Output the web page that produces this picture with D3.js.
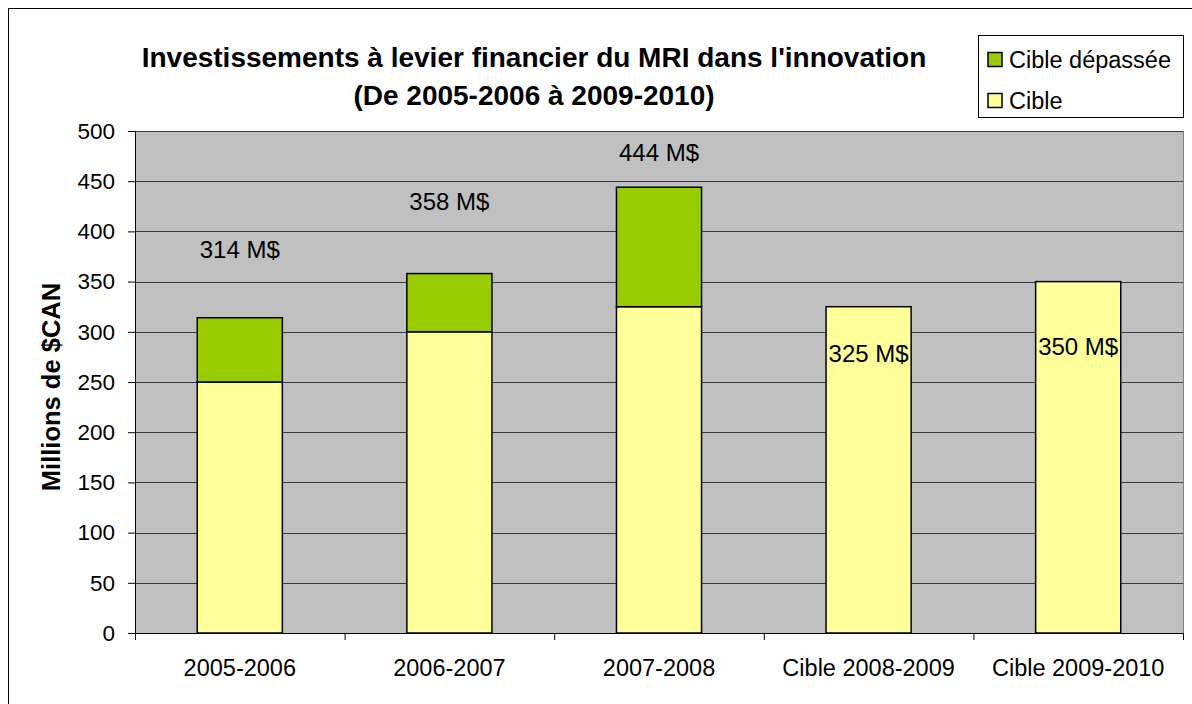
<!DOCTYPE html>
<html>
<head>
<meta charset="utf-8">
<script src="https://cdn.jsdelivr.net/npm/d3@7"></script>
<style>
  body { margin: 0; background: #fff; }
  text { font-family: "Liberation Sans", Arial, sans-serif; }
</style>
</head>
<body>
<div id="chart"></div>
<script>
// Chart data
const categories = ["2005-2006", "2006-2007", "2007-2008", "Cible 2008-2009", "Cible 2009-2010"];
const cibleValues = [250, 300, 325, 325, 350];
const depasseeValues = [64, 58, 119, 0, 0];
const labelTexts = ["314 M$", "358 M$", "444 M$", "325 M$", "350 M$"];
const labelLevels = [382, 430, 478, 278, 285];
const yTicks = [0, 50, 100, 150, 200, 250, 300, 350, 400, 450, 500];

const W = 1192, H = 704;
const margin = {top: 131, right: 9, bottom: 71, left: 135};
const width = W - margin.left - margin.right,
      height = H - margin.top - margin.bottom;

const svg = d3.select("#chart").append("svg")
    .attr("width", W)
    .attr("height", H);

// outer frame
svg.append("rect")
    .attr("x", 8.5).attr("y", 8.5)
    .attr("width", W + 20).attr("height", H + 20)
    .attr("fill", "#fff").attr("stroke", "#000");

const g = svg.append("g")
    .attr("transform", `translate(${margin.left},${margin.top})`);

const x = d3.scaleBand().domain(categories).range([0, width]).paddingInner(0).paddingOuter(0);
const y = d3.scaleLinear().domain([0, 500]).range([height, 0]);
const barW = x.bandwidth() * 0.406;

// plot background
g.append("rect")
    .attr("width", width).attr("height", height)
    .attr("fill", "#c0c0c0");

// gridlines
g.selectAll(".grid")
    .data(yTicks.filter(d => d > 0))
  .enter().append("line")
    .attr("x1", 0).attr("x2", width)
    .attr("y1", d => Math.round(y(d)) + 0.5).attr("y2", d => Math.round(y(d)) + 0.5)
    .attr("stroke", "#3a3a3a").attr("stroke-width", 1);

// right border of plot area
g.append("line")
    .attr("x1", width + 0.5).attr("x2", width + 0.5)
    .attr("y1", 0).attr("y2", height)
    .attr("stroke", "#808080");

// stacked bars
const data = categories.map((c, i) => ({cat: c, cible: cibleValues[i], dep: depasseeValues[i]}));

g.selectAll(".cible")
    .data(data)
  .enter().append("rect")
    .attr("x", d => x(d.cat) + (x.bandwidth() - barW) / 2)
    .attr("y", d => y(d.cible))
    .attr("width", barW)
    .attr("height", d => height - y(d.cible))
    .attr("fill", "#ffff99").attr("stroke", "#000").attr("stroke-width", 1.5);

g.selectAll(".dep")
    .data(data.filter(d => d.dep > 0))
  .enter().append("rect")
    .attr("x", d => x(d.cat) + (x.bandwidth() - barW) / 2)
    .attr("y", d => y(d.cible + d.dep))
    .attr("width", barW)
    .attr("height", d => y(d.cible) - y(d.cible + d.dep))
    .attr("fill", "#99cc00").attr("stroke", "#000").attr("stroke-width", 1.5);

// value labels
g.selectAll(".lbl")
    .data(categories)
  .enter().append("text")
    .attr("x", d => x(d) + x.bandwidth() / 2)
    .attr("y", (d, i) => y(labelLevels[i]))
    .attr("dy", "0.35em")
    .attr("text-anchor", "middle")
    .attr("font-size", 24)
    .text((d, i) => labelTexts[i]);

// axes
const yAxis = g.append("g")
    .call(d3.axisLeft(y).tickValues(yTicks).tickSize(7).tickPadding(13));
yAxis.select(".domain").attr("stroke", "#000");
yAxis.selectAll("text").attr("font-size", 22.5).attr("fill", "#000")
    .style("font-family", "'Liberation Sans', Arial, sans-serif");

const xAxis = g.append("g")
    .attr("transform", `translate(0,${height})`)
    .call(d3.axisBottom(x).tickSize(0).tickPadding(26));
xAxis.select(".domain").attr("stroke", "#000");
xAxis.selectAll("text").attr("font-size", 23.5).attr("fill", "#000")
    .style("font-family", "'Liberation Sans', Arial, sans-serif");
// category boundary ticks
xAxis.selectAll(".bound")
    .data(d3.range(categories.length + 1))
  .enter().append("line")
    .attr("x1", i => i * x.bandwidth() + 0.5).attr("x2", i => i * x.bandwidth() + 0.5)
    .attr("y1", 0).attr("y2", 7)
    .attr("stroke", "#000");

// y-axis title
svg.append("text")
    .attr("transform", "translate(51.5,387) rotate(-90)")
    .attr("dy", "0.35em")
    .attr("text-anchor", "middle")
    .attr("font-size", 25.5).attr("font-weight", "bold")
    .text("Millions de $CAN");

// title
const title = svg.append("text")
    .attr("text-anchor", "middle")
    .attr("font-size", 28).attr("font-weight", "bold");
title.append("tspan").attr("x", 534).attr("y", 67)
    .text("Investissements à levier financier du MRI dans l'innovation");
title.append("tspan").attr("x", 534).attr("y", 105)
    .text("(De 2005-2006 à 2009-2010)");

// legend
const legend = svg.append("g").attr("transform", "translate(978,35)");
legend.append("rect")
    .attr("x", 0.5).attr("y", 0.5).attr("width", 205).attr("height", 82)
    .attr("fill", "#fff").attr("stroke", "#000");
const legendItems = [{name: "Cible dépassée", color: "#99cc00"}, {name: "Cible", color: "#ffff99"}];
const li = legend.selectAll(".li")
    .data(legendItems)
  .enter().append("g")
    .attr("transform", (d, i) => `translate(10,${24.5 + i * 41})`);
li.append("rect")
    .attr("x", 0).attr("y", -7)
    .attr("width", 14).attr("height", 14)
    .attr("fill", d => d.color).attr("stroke", "#000").attr("stroke-width", 1.5);
li.append("text")
    .attr("x", 21).attr("y", 0).attr("dy", "0.35em")
    .attr("font-size", 23.5)
    .text(d => d.name);
</script>
</body>
</html>
